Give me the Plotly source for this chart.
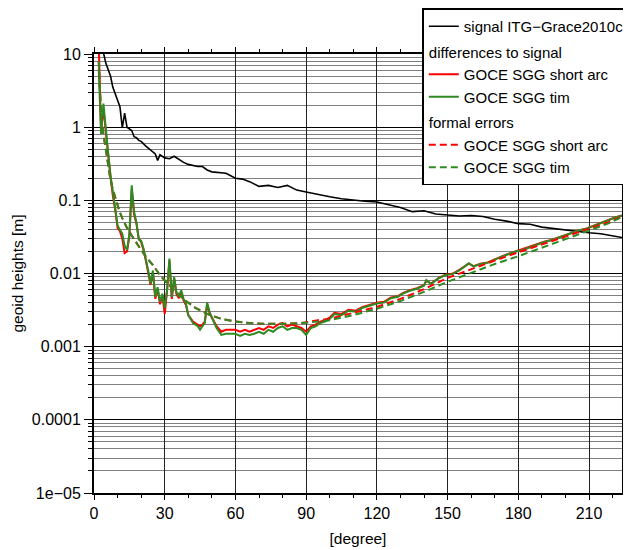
import plotly.graph_objects as go

# ---------------- data ----------------
deg_sig = [2, 3, 4, 5, 6, 7, 8, 9, 10, 11, 12, 13, 14, 15, 16, 17, 18, 19, 20, 22, 24, 26, 27, 28,
           30, 32, 34, 36, 38, 40, 42, 44, 46, 48, 50, 53, 56, 60, 63, 66, 70, 74, 78, 82, 86, 90,
           95, 100, 105, 110, 115, 120, 125, 130, 135, 140, 145, 150, 155, 160, 165, 170, 175, 180,
           185, 190, 195, 200, 205, 210, 215, 220, 224]
signal = [40, 18, 10.5, 7.5, 6.0, 5.0, 3.5, 2.8, 2.3, 1.9, 0.98, 1.55, 1.0, 0.95, 0.90, 0.74, 0.72,
          0.66, 0.64, 0.55, 0.48, 0.43, 0.35, 0.42, 0.38, 0.37, 0.40, 0.36, 0.33, 0.31, 0.30, 0.29,
          0.29, 0.26, 0.245, 0.24, 0.235, 0.20, 0.195, 0.18, 0.155, 0.16, 0.15, 0.16, 0.138, 0.13,
          0.12, 0.112, 0.105, 0.10, 0.097, 0.095, 0.088, 0.08, 0.07, 0.072, 0.065, 0.063, 0.061,
          0.062, 0.060, 0.055, 0.052, 0.048, 0.047, 0.043, 0.041, 0.040, 0.038, 0.036, 0.035,
          0.033, 0.031]

deg_diff = [2, 3, 4, 5, 6, 7, 8, 9, 10, 11, 12, 13, 14, 15, 16, 17, 18, 19, 20, 21, 22, 23, 24, 25,
            26, 27, 28, 29, 30, 31, 32, 33, 34, 35, 36, 37, 38, 39, 40, 42, 44, 45, 46, 47, 48, 49,
            50, 52, 54, 56, 58, 60, 62, 64, 66, 68, 70, 72, 74, 76, 78, 80, 82, 84, 86, 88, 90, 92,
            94, 96, 98, 100, 102, 105, 108, 111, 114, 117, 120, 123, 126, 129, 131, 134, 137, 140,
            141, 143, 146, 149, 152, 155, 158, 159, 161, 164, 167, 170, 173, 176, 179, 182, 185,
            188, 191, 194, 197, 200, 203, 206, 209, 212, 215, 218, 221, 224]
diff_short_arc = [14, 0.9, 1.8, 0.85, 0.42, 0.21, 0.115, 0.075, 0.042, 0.038, 0.03, 0.019, 0.02,
                  0.032, 0.14, 0.065, 0.048, 0.03, 0.027, 0.021, 0.015, 0.0105, 0.007, 0.0105,
                  0.0045, 0.0062, 0.0038, 0.0050, 0.0028, 0.0058, 0.015, 0.0045, 0.0085, 0.0052,
                  0.0046, 0.0056, 0.0043, 0.0037, 0.0027, 0.0022, 0.0020, 0.0019, 0.0020, 0.0022,
                  0.0038, 0.0029, 0.0025, 0.0019, 0.0016, 0.0017, 0.0017, 0.0017, 0.0016, 0.0017,
                  0.0016, 0.0017, 0.0018, 0.0017, 0.0019, 0.0018, 0.0020, 0.0021, 0.0019, 0.0020,
                  0.0019, 0.0018, 0.0016, 0.0019, 0.0020, 0.0022, 0.0023, 0.0025, 0.0029, 0.0028,
                  0.0032, 0.0031, 0.0035, 0.0037, 0.0040, 0.0041, 0.0047, 0.0049, 0.0054, 0.0059,
                  0.0063, 0.0069, 0.0080, 0.0073, 0.0086, 0.0096, 0.0099, 0.0112, 0.0128, 0.0136,
                  0.0126, 0.0136, 0.0142, 0.0157, 0.0171, 0.0186, 0.0201, 0.0212, 0.0232, 0.0252,
                  0.0272, 0.0287, 0.0312, 0.0332, 0.0362, 0.0392, 0.0412, 0.0452, 0.0492, 0.0532,
                  0.0582, 0.0622]
diff_tim = [6.3, 0.8, 2.1, 0.9, 0.45, 0.22, 0.12, 0.078, 0.045, 0.040, 0.035, 0.024, 0.021, 0.034,
            0.16, 0.07, 0.05, 0.029, 0.028, 0.022, 0.016, 0.011, 0.0073, 0.011, 0.0048, 0.0065,
            0.0041, 0.0053, 0.0034, 0.006, 0.016, 0.0048, 0.0089, 0.0055, 0.0048, 0.0059, 0.0045,
            0.0039, 0.0027, 0.0021, 0.0019, 0.0017, 0.0019, 0.0021, 0.0040, 0.0030, 0.0025,
            0.0018, 0.00145, 0.0015, 0.0015, 0.0015, 0.0014, 0.0015, 0.00145, 0.0015, 0.0016,
            0.0015, 0.0017, 0.0016, 0.0018, 0.0019, 0.0017, 0.0018, 0.0018, 0.0017, 0.00145,
            0.0018, 0.0019, 0.0021, 0.0022, 0.0024, 0.0028, 0.0027, 0.0031, 0.0030, 0.0034,
            0.0036, 0.0039, 0.0040, 0.0046, 0.0048, 0.0053, 0.0058, 0.0062, 0.0068, 0.0081,
            0.0072, 0.0085, 0.0095, 0.0098, 0.011, 0.0128, 0.0138, 0.0125, 0.0135, 0.014, 0.0155,
            0.017, 0.0185, 0.020, 0.021, 0.023, 0.025, 0.027, 0.0285, 0.031, 0.033, 0.036, 0.039,
            0.041, 0.045, 0.049, 0.053, 0.058, 0.062]

deg_err = [2, 3, 4, 5, 6, 7, 8, 9, 10, 11, 12, 14, 16, 18, 20, 22, 25, 28, 31, 35, 39, 43, 48, 54,
           60, 66, 72, 80, 88, 95, 100, 110, 120, 130, 140, 150, 160, 170, 180, 190, 200, 210,
           218, 224]
err_short_arc = [8.0, 1.5, 0.8, 0.5, 0.3, 0.19, 0.14, 0.11, 0.085, 0.068, 0.057, 0.042, 0.033,
                 0.026, 0.021, 0.017, 0.013, 0.0095, 0.0074, 0.0055, 0.0042, 0.0034, 0.0028,
                 0.0024, 0.0022, 0.0021, 0.00205, 0.00205, 0.0021, 0.0023, 0.0024, 0.0029, 0.0035,
                 0.0045, 0.0061, 0.0087, 0.0115, 0.0150, 0.0195, 0.025, 0.032, 0.041, 0.050, 0.060]
err_tim = [8.0, 1.5, 0.8, 0.5, 0.3, 0.19, 0.14, 0.11, 0.085, 0.068, 0.057, 0.042, 0.033, 0.026,
           0.021, 0.017, 0.013, 0.0095, 0.0074, 0.0055, 0.0042, 0.0034, 0.0028, 0.0024, 0.0022,
           0.0021, 0.00205, 0.00205, 0.0021, 0.0022, 0.0023, 0.0027, 0.0033, 0.0042, 0.0056,
           0.0077, 0.0102, 0.0135, 0.0172, 0.0225, 0.029, 0.038, 0.048, 0.059]

y_major = [1e-5, 1e-4, 1e-3, 1e-2, 1e-1, 1, 10]
y_labels = ["1e\u221205", "0.0001", "0.001", "0.01", "0.1", "1", "10"]
y_minor = [m * 10.0 ** k for k in range(-5, 1) for m in range(2, 10)]

RED = "#ff0000"
GREEN = "#2e8b22"
FONT = "Liberation Sans, Arial, sans-serif"

fig = go.Figure()
fig.add_trace(go.Scatter(x=deg_sig, y=signal, mode="lines", name="signal ITG\u2212Grace2010c",
                         line=dict(color="black", width=1.6), legendgroup="sig"))
fig.add_trace(go.Scatter(x=deg_diff, y=diff_short_arc, mode="lines", name="GOCE SGG short arc",
                         line=dict(color=RED, width=2), legendgroup="diff",
                         legendgrouptitle=dict(text="differences to signal")))
fig.add_trace(go.Scatter(x=deg_diff, y=diff_tim, mode="lines", name="GOCE SGG tim",
                         line=dict(color=GREEN, width=2), legendgroup="diff"))
fig.add_trace(go.Scatter(x=deg_err, y=err_short_arc, mode="lines", name="GOCE SGG short arc",
                         line=dict(color=RED, width=2, dash="7px,4px"), legendgroup="err",
                         legendgrouptitle=dict(text="formal errors")))
fig.add_trace(go.Scatter(x=deg_err, y=err_tim, mode="lines", name="GOCE SGG tim",
                         line=dict(color=GREEN, width=2, dash="7px,4px"), legendgroup="err"))

fig.update_layout(
    width=631, height=550,
    margin=dict(l=86, r=17, t=46, b=65, autoexpand=False),
    paper_bgcolor="white", plot_bgcolor="white",
    font=dict(family=FONT, size=15.5, color="black"),
    showlegend=True,
    legend=dict(x=0.6218, y=1.1037, xanchor="left", yanchor="top",
                bgcolor="white", bordercolor="black", borderwidth=1.5,
                font=dict(size=15, color="black"), tracegroupgap=3,
                traceorder="grouped", itemwidth=30,
                grouptitlefont=dict(size=15, color="black")),
)
fig.update_xaxes(
    range=[0, 224], tick0=0, dtick=30, showgrid=True, gridcolor="#222222", gridwidth=1,
    ticks="outside", ticklen=5, tickwidth=1, tickcolor="black",
    showline=True, linecolor="black", linewidth=2, mirror="allticks", zeroline=False,
    minor=dict(dtick=10, tick0=0, ticks="outside", ticklen=3, tickcolor="black", showgrid=False),
    title=dict(text="[degree]", standoff=12, font=dict(size=15.5)),
    tickfont=dict(size=16),
)
fig.update_yaxes(
    type="log", range=[-5, 1], tickvals=y_major, ticktext=y_labels,
    showgrid=True, gridcolor="black", gridwidth=1,
    ticks="outside", ticklen=8, tickwidth=1, tickcolor="black",
    showline=True, linecolor="black", linewidth=2, mirror="allticks", zeroline=False,
    minor=dict(tickvals=y_minor, ticks="outside", ticklen=4, tickcolor="black",
               showgrid=True, gridcolor="#808080", gridwidth=1),
    title=dict(text="geoid heights [m]", standoff=4, font=dict(size=15.5)),
    tickfont=dict(size=16),
)

fig.write_html("out.html")
